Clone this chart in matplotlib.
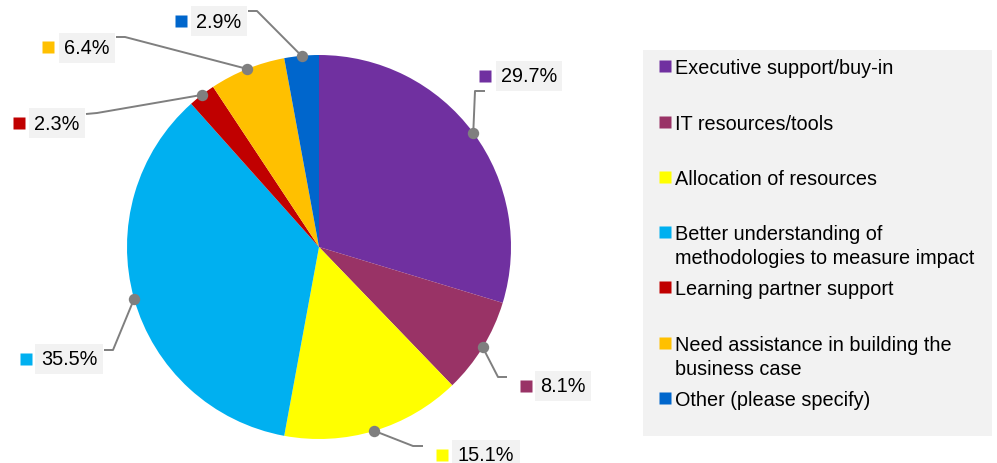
import matplotlib
matplotlib.use("Agg")
import matplotlib.pyplot as plt
import numpy as np
from matplotlib.patches import Rectangle

plt.rcParams['font.family'] = ['Liberation Sans', 'DejaVu Sans']

# Survey responses
categories = [
    "Executive support/buy-in",
    "IT resources/tools",
    "Allocation of resources",
    "Better understanding of\nmethodologies to measure impact",
    "Learning partner support",
    "Need assistance in building the\nbusiness case",
    "Other (please specify)",
]
shares = [29.7, 8.1, 15.1, 35.5, 2.3, 6.4, 2.9]
colors = ['#7030A0', '#993366', '#FFFF00', '#00B0F0', '#C00000', '#FFC000', '#0066CC']
value_labels = [f"{v:.1f}%" for v in shares]

W, H = 997, 464
fig = plt.figure(figsize=(W / 100, H / 100), dpi=100)
ax = fig.add_axes([0, 0, 1, 1])

def py(y):
    # pixel row (from top) -> data y
    return H - y

cx, cy, R = 319, py(248), 192
ax.pie(shares, colors=colors, startangle=90, counterclock=False,
       center=(cx, cy), radius=R, wedgeprops=dict(linewidth=0))
ax.set_xlim(0, W)
ax.set_ylim(0, H)
ax.set_aspect('equal')
ax.axis('off')

# label placement: (elbow, line end, square centre, text centre) in pixel coords
placement = [
    ((475, 92), (485, 92), (484.5, 76.5), (529, 77)),
    ((498, 378), (507, 378), (525.5, 386.5), (563, 387)),
    ((413, 447), (423, 447), (442, 455.5), (486, 456)),
    ((113, 351), (104, 351), (25.5, 359.5), (69, 360)),
    ((97, 114), (86, 115), (19, 123.5), (57, 124)),
    ((125, 38), (116, 38), (48, 48), (87, 49)),
    ((257, 12), (248, 12), (181, 22), (219, 22)),
]

cum = np.cumsum([0] + shares[:-1])
grey = '#7F7F7F'
for i, (v, c) in enumerate(zip(shares, colors)):
    ang = np.deg2rad(90 - 360 * (cum[i] + v / 2) / sum(shares))
    dx, dy = cx + R * np.cos(ang), cy + R * np.sin(ang)
    elbow, end, sq, tc = placement[i]
    ax.plot([dx, elbow[0], end[0]], [dy, py(elbow[1]), py(end[1])],
            color=grey, lw=1.4, solid_capstyle='butt', zorder=3)
    ax.plot([dx], [dy], 'o', color=grey, ms=8.2, mec='none', zorder=4)
    ax.plot([sq[0]], [py(sq[1])], 's', color=c, ms=8.4, mec='none', zorder=4)
    ax.text(tc[0], py(tc[1]), value_labels[i], ha='center', va='center',
            fontsize=14.3, color='#000000', zorder=5,
            bbox=dict(boxstyle='square,pad=0.27', fc='#F2F2F2', ec='none'))

# legend panel
ax.add_patch(Rectangle((643, py(437)), 992 - 643, 437 - 51,
                       fc='#F2F2F2', ec='none', zorder=1))
rows = [67, 123, 178, 233, 288, 344, 399]
for name, c, r in zip(categories, colors, rows):
    ax.plot([665], [py(r)], 's', color=c, ms=8.4, mec='none', zorder=4)
    for j, line in enumerate(name.split("\n")):
        ax.text(675, py(r + 7 + 24 * j), line, ha='left', va='baseline',
                fontsize=14.3, color='#000000', zorder=5)

fig.savefig('out.png', dpi=100)
